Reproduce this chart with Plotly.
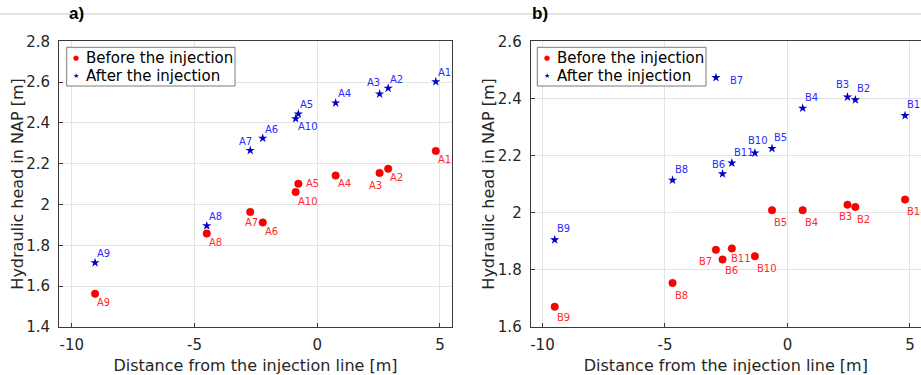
import plotly.graph_objects as go

# ---------------- data ----------------
a_names = ["A1", "A2", "A3", "A4", "A5", "A6", "A7", "A8", "A9", "A10"]
a_dist = [4.83, 2.89, 2.54, 0.75, -0.77, -2.22, -2.73, -4.50, -9.05, -0.88]
a_before = [2.263, 2.175, 2.155, 2.142, 2.102, 1.912, 1.964, 1.858, 1.563, 2.061]
a_after = [2.602, 2.570, 2.542, 2.498, 2.444, 2.325, 2.265, 1.896, 1.715, 2.421]

b_names = ["B1", "B2", "B3", "B4", "B5", "B6", "B7", "B8", "B9", "B10", "B11"]
b_dist = [4.80, 2.77, 2.45, 0.62, -0.63, -2.65, -2.92, -4.69, -9.50, -1.33, -2.27]
b_before = [2.046, 2.020, 2.028, 2.009, 2.009, 1.836, 1.870, 1.754, 1.671, 1.848, 1.875]
b_after = [2.340, 2.395, 2.405, 2.366, 2.225, 2.136, 2.473, 2.114, 1.905, 2.209, 2.174]

x_ticks = [-10, -5, 0, 5]
x_ticktext = ["-10", "-5", "0", "5"]
a_yticks = [1.4, 1.6, 1.8, 2.0, 2.2, 2.4, 2.6, 2.8]
b_yticks = [1.6, 1.8, 2.0, 2.2, 2.4, 2.6]

legend_labels = ["Before the injection", "After the injection"]
x_title = "Distance from the injection line [m]"
y_title = "Hydraulic head in NAP [m]"
panel_titles = ["a)", "b)"]

# ---------------- styles ----------------
W, H = 921, 375
FONT = "DejaVu Sans"
RED = "#ff0000"
RED_TXT = "#ff2b2b"
BLUE = "#0000c8"
BLUE_TXT = "#2b2bff"
AX = "#3a3a3a"
GRID = "#e4e4e4"
TXT = "#262626"

# label placement (xanchor, xshift, yshift) ; defaults below
a_after_pos = {"A3": ("right", 2, 11), "A10": ("left", 0, -8), "A7": ("right", 4, 9)}
a_before_pos = {"A3": ("right", 4, -13), "A5": ("left", 6, 0), "A7": ("center", 1, -11),
                "A4": ("left", 0, -8)}
b_after_pos = {"B7": ("left", 12, -3), "B3": ("right", 3, 13), "B10": ("center", 3, 13),
               "B6": ("right", 4, 9)}
b_before_pos = {"B3": ("right", 6, -12), "B7": ("right", -2, -12), "B11": ("left", -3, -10),
                "B6": ("left", 0, -11), "B9": ("left", 0, -11)}

PLOT_TOP, PLOT_BOT = 41.3, 327.0

fig = go.Figure()

panels = [
    dict(names=a_names, dist=a_dist, before=a_before, after=a_after, xa="x", ya="y",
         pos_after=a_after_pos, pos_before=a_before_pos, dy_after=9, dy_before=-9,
         leg_box=(66.7, 235.0), title_x=67, ytitle_x=17.5),
    dict(names=b_names, dist=b_dist, before=b_before, after=b_after, xa="x2", ya="y2",
         pos_after=b_after_pos, pos_before=b_before_pos, dy_after=11, dy_before=-12,
         leg_box=(537.3, 706.0), title_x=530, ytitle_x=488.5),
]

annotations = []
shapes = [dict(type="line", xref="paper", yref="paper", x0=0, x1=1, y0=1 - 14 / H, y1=1 - 14 / H,
               line=dict(color="#c8c8c8", width=1), layer="below")]

for i, p in enumerate(panels):
    fig.add_trace(go.Scatter(x=p["dist"], y=p["before"], mode="markers", name=legend_labels[0],
                             showlegend=False,
                             marker=dict(color=RED, size=7.5, line=dict(color="#d00000", width=0.5)),
                             xaxis=p["xa"], yaxis=p["ya"], hovertext=p["names"]))
    fig.add_trace(go.Scatter(x=p["dist"], y=p["after"], mode="markers", name=legend_labels[1],
                             showlegend=False,
                             marker=dict(color=BLUE, size=7, symbol="star", line=dict(width=0)),
                             xaxis=p["xa"], yaxis=p["ya"], hovertext=p["names"]))
    for n, xv, yv in zip(p["names"], p["dist"], p["after"]):
        xa, xs, ys = p["pos_after"].get(n, ("left", 0, p["dy_after"]))
        annotations.append(dict(x=xv, y=yv, xref=p["xa"], yref=p["ya"], text=n, showarrow=False,
                                xanchor=xa, yanchor="middle", xshift=xs, yshift=ys,
                                font=dict(family=FONT, size=10, color=BLUE_TXT)))
    for n, xv, yv in zip(p["names"], p["dist"], p["before"]):
        xa, xs, ys = p["pos_before"].get(n, ("left", 0, p["dy_before"]))
        annotations.append(dict(x=xv, y=yv, xref=p["xa"], yref=p["ya"], text=n, showarrow=False,
                                xanchor=xa, yanchor="middle", xshift=xs, yshift=ys,
                                font=dict(family=FONT, size=10, color=RED_TXT)))

    # legend box (drawn like the original compact legend)
    lx0, lx1 = p["leg_box"]
    shapes.append(dict(type="rect", xref="paper", yref="paper", x0=lx0 / W, x1=lx1 / W,
                       y0=1 - 86 / H, y1=1 - 47.3 / H, fillcolor="white",
                       line=dict(color="#7a7a7a", width=1), layer="above"))
    for label, sym, col, fs, ypx in [(legend_labels[0], "\u25cf", RED, 7, 57.7),
                                     (legend_labels[1], "\u2605", BLUE, 7, 76.0)]:
        annotations.append(dict(x=(lx0 + 9.5) / W, y=1 - ypx / H, xref="paper", yref="paper",
                                text=sym, showarrow=False, xanchor="center", yanchor="middle",
                                font=dict(family=FONT, size=fs, color=col)))
        annotations.append(dict(x=(lx0 + 17.5) / W, y=1 - ypx / H, xref="paper", yref="paper",
                                text=label, showarrow=False, xanchor="left", yanchor="middle",
                                font=dict(family=FONT, size=15, color="black")))

    # panel title
    annotations.append(dict(x=p["title_x"] / W, y=1 - 14 / H, xref="paper", yref="paper",
                            text="<b>%s</b>" % panel_titles[i],
                            showarrow=False, xanchor="left", yanchor="middle",
                            font=dict(family="Liberation Sans", size=17, color="black")))
    # y axis title
    annotations.append(dict(x=p["ytitle_x"] / W, y=1 - (PLOT_TOP + PLOT_BOT) / 2 / H,
                            xref="paper", yref="paper", text=y_title, textangle=-90,
                            showarrow=False, xanchor="center", yanchor="middle",
                            font=dict(family=FONT, size=16, color=TXT)))

ydom = [1 - PLOT_BOT / H, 1 - PLOT_TOP / H]
common_x = dict(tickvals=x_ticks, ticktext=x_ticktext, showgrid=True, gridcolor=GRID, gridwidth=1,
                zeroline=False, showline=True, linecolor=AX, linewidth=1, ticks="inside",
                ticklen=4, tickcolor=AX, tickfont=dict(family=FONT, size=15, color=TXT),
                automargin=False, ticklabelstandoff=4,
                title=dict(text=x_title, font=dict(family=FONT, size=16, color=TXT)))
common_y = dict(showgrid=True, gridcolor=GRID, gridwidth=1, zeroline=False, showline=True,
                linecolor=AX, linewidth=1, ticks="inside", ticklen=4, tickcolor=AX,
                tickfont=dict(family=FONT, size=15, color=TXT), automargin=False,
                ticklabelstandoff=5)

fig.update_layout(
    template="none",
    width=W, height=H, margin=dict(l=0, r=0, t=0, b=0),
    paper_bgcolor="white", plot_bgcolor="white",
    xaxis=dict(common_x, domain=[59 / W, 452 / W], range=[-10.52, 5.49], anchor="y", mirror=True),
    yaxis=dict(common_y, domain=ydom, range=[1.4, 2.8], tickvals=a_yticks, anchor="x", mirror=True),
    xaxis2=dict(common_x, domain=[530.7 / W, 1.0], range=[-10.48, 5.45], anchor="y2", mirror=True),
    yaxis2=dict(common_y, domain=ydom, range=[1.6, 2.6], tickvals=b_yticks, anchor="x2", mirror=False),
    annotations=annotations,
    shapes=shapes,
    showlegend=False,
)

fig.write_html("out.html")
